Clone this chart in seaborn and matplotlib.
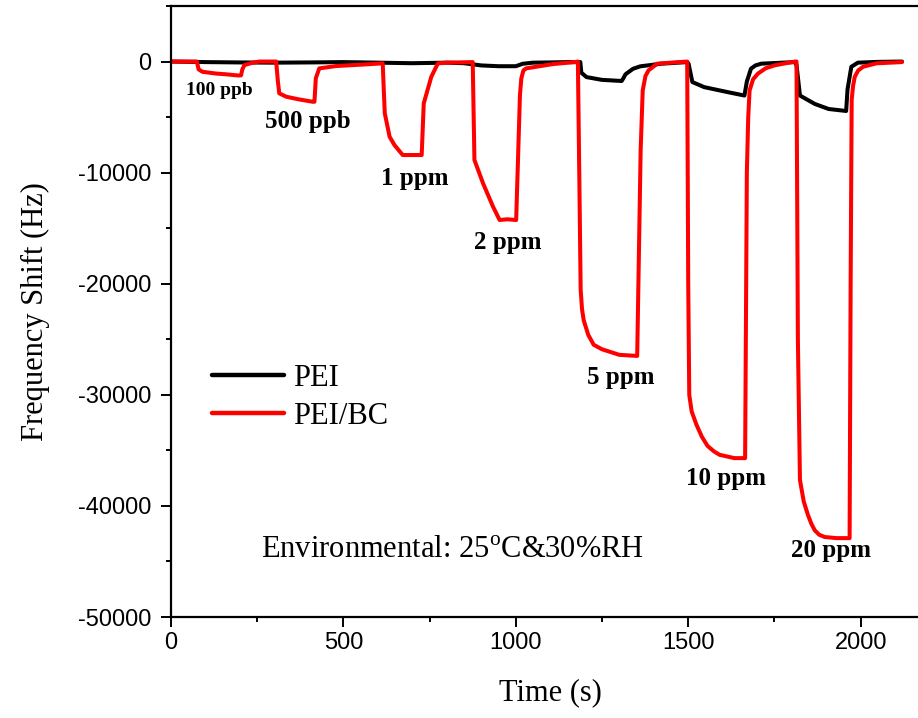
import numpy as np
import pandas as pd
import matplotlib
matplotlib.use("Agg")
import matplotlib.pyplot as plt
import seaborn as sns
from matplotlib.ticker import MultipleLocator

# ---------------- data ----------------
pei_t = [0, 100, 200, 300, 400, 500, 600, 700, 800, 850, 900, 950, 1000, 1020, 1050,
         1100, 1150, 1187, 1190, 1205, 1250, 1307, 1312, 1318, 1327, 1340, 1361, 1420, 1497,
         1501, 1512, 1546, 1614, 1663, 1670, 1682, 1695, 1712, 1809, 1814, 1824, 1867,
         1907, 1958, 1962, 1973, 1992, 2050, 2120]
pei_v = [0, -50, -80, -100, -80, -50, -100, -150, -100, -150, -350, -420, -420, -200, -100,
         -80, -50, -50, -1000, -1400, -1650, -1750, -1500, -1150, -945, -650, -430, -200, -50,
         -200, -1845, -2300, -2750, -3060, -1800, -640, -350, -190, -50, -300, -3060, -3815,
         -4270, -4450, -2500, -470, -100, -30, 0]

bc_t = [0, 75, 80, 91, 130, 160, 193, 203, 207, 213, 235, 256, 300,
        305, 310, 314, 334, 370, 411, 416, 420, 430, 479, 566, 614,
        617, 620, 634, 648, 672, 700, 727, 733, 755, 774, 800, 875,
        880, 905, 934, 953, 975, 1001, 1012, 1016, 1022, 1030, 1108, 1170, 1180,
        1184, 1188, 1192, 1197, 1210, 1226, 1250, 1270, 1300, 1352, 1362, 1368, 1376,
        1385, 1410, 1450, 1497,
        1500, 1503, 1510, 1524, 1540, 1556, 1575, 1591, 1634, 1665, 1670, 1674, 1678,
        1688, 1702, 1725, 1751, 1809,
        1814, 1818, 1824, 1835, 1847, 1857, 1867, 1880, 1896, 1930, 1968, 1971, 1974,
        1978, 1983, 1993, 2007, 2046, 2120]
bc_v = [0, 0, -700, -920, -1080, -1150, -1250, -1250, -700, -315, -120, 0, 0,
        0, -1800, -2860, -3165, -3400, -3620, -3620, -1500, -615, -405, -255, -160,
        -2500, -4660, -6770, -7515, -8415, -8415, -8415, -3765, -1365, -165, -100, -50,
        -8865, -10965, -13070, -14265, -14200, -14265, -3000, -1510, -800, -615, -225, -50, 0,
        -10000, -20500, -22300, -23300, -24600, -25500, -25900, -26100, -26400, -26500, -8000,
        -2600, -1300,
        -790, -190, -100, 0,
        -20000, -30000, -31500, -32700, -33800, -34600, -35100, -35400, -35700, -35700, -10000,
        -5000, -2600,
        -1600, -1090, -600, -340, 0,
        0, -25000, -37665, -39600, -40800, -41600, -42200, -42600, -42800, -42900, -42900,
        -20000, -3465,
        -2200, -1370, -800, -470, -160, -50]

series_names = ["PEI", "PEI/BC"]
conc_labels = ["100 ppb", "500 ppb", "1 ppm", "2 ppm", "5 ppm", "10 ppm", "20 ppm"]
conc_x = [140, 396, 706, 976, 1304, 1609, 1913]
conc_y = [-2565, -5355, -10485, -16245, -28485, -37575, -44055]
conc_size = [14, 18, 18, 18, 18, 18, 18]

x_ticks = [0, 500, 1000, 1500, 2000]
y_ticks = [0, -10000, -20000, -30000, -40000, -50000]

df = pd.concat([
    pd.DataFrame({"time": pei_t, "shift": pei_v, "series": series_names[0]}),
    pd.DataFrame({"time": bc_t, "shift": bc_v, "series": series_names[1]}),
], ignore_index=True)

# ---------------- style ----------------
sns.set_theme(style="ticks")
plt.rcParams["font.family"] = ["Liberation Serif", "DejaVu Sans"]
plt.rcParams["axes.unicode_minus"] = False
plt.rcParams["mathtext.fontset"] = "custom"
plt.rcParams["mathtext.rm"] = "Liberation Serif"
plt.rcParams["text.color"] = "black"
plt.rcParams["axes.labelcolor"] = "black"
plt.rcParams["xtick.color"] = "black"
plt.rcParams["ytick.color"] = "black"

fig = plt.figure(figsize=(9.18, 7.18), dpi=100)
W, H = 918, 718
left, right, top, bottom = 171, 929.6, 6, 617
ax = fig.add_axes([left / W, 1 - bottom / H, (right - left) / W, (bottom - top) / H])

sns.lineplot(data=df, x="time", y="shift", hue="series", hue_order=series_names,
             palette={"PEI": "#000000", "PEI/BC": "#ff0000"}, sort=False,
             estimator=None, linewidth=2.9, ax=ax)

ax.set_xlim(0, 2200)
ax.set_ylim(-50000, 5000)
ax.set_xticks(x_ticks)
ax.set_yticks(y_ticks)
ax.xaxis.set_minor_locator(MultipleLocator(250))
ax.yaxis.set_minor_locator(MultipleLocator(5000))
ax.tick_params(which="major", direction="out", length=7, width=1.4, colors="black")
ax.tick_params(which="minor", direction="out", length=3.8, width=1.4, colors="black")
ax.tick_params(axis="x", which="major", pad=4)
ax.tick_params(axis="y", which="major", pad=7)
for lab in ax.get_xticklabels() + ax.get_yticklabels():
    lab.set_family("Liberation Sans")
    lab.set_fontsize(17)
    lab.set_color("black")
for s in ax.spines.values():
    s.set_linewidth(1.6)
    s.set_color("black")

ax.set_xlabel("Time (s)", fontsize=22, labelpad=17, color="black")
ax.set_ylabel("Frequency Shift (Hz)", fontsize=22, labelpad=20, color="black")

handles, labels = ax.get_legend_handles_labels()
leg = ax.legend(handles, labels, loc="upper left", bbox_to_anchor=(0.054, 0.414),
                frameon=False, fontsize=22, handlelength=2.35, handletextpad=0.3,
                labelspacing=0.28, borderpad=0, borderaxespad=0)
for h in leg.get_lines():
    h.set_linewidth(3.2)
for t in leg.get_texts():
    t.set_color("black")

for lab, x, y, fs in zip(conc_labels, conc_x, conc_y, conc_size):
    ax.text(x, y, lab, ha="center", va="center", fontsize=fs, fontweight="bold",
            family="Liberation Serif", color="black")

ax.text(817, -44000, r"Environmental: 25$^{\mathrm{o}}$C&30%RH", ha="center", va="center",
        fontsize=22, color="black")

fig.savefig("out.png", dpi=100)
